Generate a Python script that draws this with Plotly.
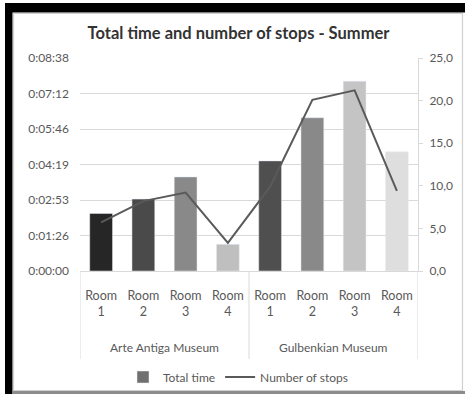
import plotly.graph_objects as go

# Visit data per room
museums = ["Arte Antiga Museum"] * 4 + ["Gulbenkian Museum"] * 4
rooms = ["Room 1", "Room 2", "Room 3", "Room 4", "Room 1", "Room 2", "Room 3", "Room 4"]
total_time_s = [140, 175, 229, 65, 268, 373, 462, 290]
stops = [5.7, 8.2, 9.2, 3.3, 9.9, 20.1, 21.2, 9.4]
bar_colors = ["#262626", "#4a4a4a", "#898989", "#bfbfbf",
              "#4f4f4f", "#898989", "#c4c4c4", "#dedede"]

# Axis ticks
time_ticks_s = [0, 86.4, 172.8, 259.2, 345.6, 432.0, 518.4]
stops_ticks = [0, 5, 10, 15, 20, 25]


def hms(seconds):
    s = int(round(seconds))
    return f"{s // 3600}:{(s % 3600) // 60:02d}:{s % 60:02d}"


W, H = 465, 394
L, R, T, B = 80, 47, 58, 123
PW, PH = W - L - R, H - T - B


def px(x):
    return (x - L) / PW


def py(y):
    return (H - B - y) / PH


FONT = "Lato"
GREY_TXT = "#595959"
GRID = "#d9d9d9"

x = list(range(len(rooms)))
ticktext = [r.replace(" ", "<br>") for r in rooms]

fig = go.Figure()

# legend swatch for the bars
fig.add_trace(go.Bar(x=[None], y=[None], name="Total time",
                     marker_color="#707070", showlegend=True))

fig.add_trace(go.Bar(
    x=x, y=total_time_s, marker_color=bar_colors, width=0.54,
    showlegend=False, name="Total time",
))

fig.add_trace(go.Scatter(
    x=x, y=stops, mode="lines", name="Number of stops", yaxis="y2",
    line=dict(color="#5a5a5a", width=2),
))

shapes = [
    # frame around the chart
    dict(type="rect", xref="paper", yref="paper", x0=px(5), x1=px(468), y0=py(3), y1=py(12.5),
         fillcolor="black", line_width=0, layer="above"),
    dict(type="rect", xref="paper", yref="paper", x0=px(5), x1=px(12.5), y0=py(3), y1=py(397),
         fillcolor="black", line_width=0, layer="above"),
    dict(type="rect", xref="paper", yref="paper", x0=px(13.5), x1=px(462.5), y0=py(13.5), y1=py(390.5),
         line=dict(color="#d0d0d0", width=1.2)),
    dict(type="rect", xref="paper", yref="paper", x0=px(12.5), x1=px(468), y0=py(391), y1=py(397),
         fillcolor="#8c8c8c", line_width=0),
]

# group dividers under the category axis
n = len(rooms)
bounds = [-0.5] + [i + 0.5 for i in range(n - 1) if museums[i] != museums[i + 1]] + [n - 0.5]
for b in bounds:
    shapes.append(dict(type="line", xref="x", yref="paper", x0=b, x1=b, y0=0, y1=py(359),
                       line=dict(color=GRID, width=1)))

annotations = []
for m in dict.fromkeys(museums):
    idx = [i for i, mm in enumerate(museums) if mm == m]
    annotations.append(dict(
        x=sum(idx) / len(idx), xref="x", y=py(347), yref="paper",
        text=m, showarrow=False, yanchor="middle",
        font=dict(family=FONT, size=12, color=GREY_TXT),
    ))

fig.update_layout(
    width=W, height=H,
    margin=dict(l=L, r=R, t=T, b=B, autoexpand=False),
    paper_bgcolor="white", plot_bgcolor="white",
    separators=",.",
    barmode="overlay",
    font=dict(family=FONT, size=12, color=GREY_TXT),
    title=dict(
        text="<b>Total time and number of stops - Summer</b>",
        x=px(238.5), xref="paper", xanchor="center",
        y=1 - 33 / H, yref="container", yanchor="middle",
        font=dict(family=FONT, size=16.5, color="#333333"),
    ),
    xaxis=dict(
        range=[-0.5, n - 0.5], tickvals=x, ticktext=ticktext,
        showgrid=False, zeroline=False, showline=True, linecolor=GRID,
        ticks="", tickfont=dict(size=12.5, color=GREY_TXT), ticklabelstandoff=13,
    ),
    yaxis=dict(
        range=[0, time_ticks_s[-1]], tickvals=time_ticks_s,
        ticktext=[hms(v) for v in time_ticks_s],
        showgrid=True, gridcolor=GRID, gridwidth=1, zeroline=False,
        showline=False, ticks="", ticklabelstandoff=10,
        tickfont=dict(size=12, color=GREY_TXT),
    ),
    yaxis2=dict(
        range=[0, stops_ticks[-1]], tickvals=stops_ticks, tickformat=".1f",
        overlaying="y", side="right", showgrid=False, zeroline=False,
        showline=True, linecolor=GRID, ticks="outside", ticklen=4, tickcolor=GRID,
        tickfont=dict(size=12, color=GREY_TXT), ticklabelstandoff=4,
    ),
    legend=dict(
        orientation="h", x=px(238), xanchor="center", y=py(377), yanchor="middle",
        font=dict(family=FONT, size=12, color=GREY_TXT), bgcolor="rgba(0,0,0,0)",
        itemwidth=30, tracegroupgap=0,
    ),
    shapes=shapes,
    annotations=annotations,
)

fig.write_html("out.html")
